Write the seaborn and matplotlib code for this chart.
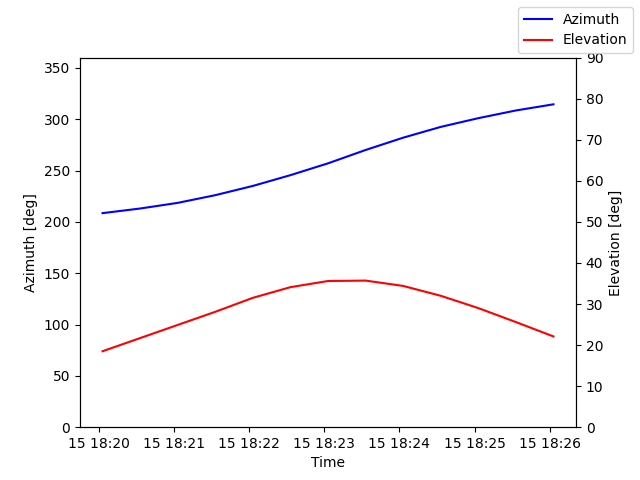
import pandas as pd
import matplotlib
matplotlib.use('Agg')
import matplotlib.pyplot as plt
import seaborn as sns

# pass samples every 30 s
times = pd.date_range('2023-06-15 18:20:03', periods=13, freq='30s')
azimuth = [208.5, 213.0, 218.5, 226.0, 235.0, 245.5, 257.0, 270.0, 282.0, 292.5, 301.0, 308.5, 314.5]
elevation = [18.5, 21.7, 24.9, 28.1, 31.5, 34.1, 35.6, 35.7, 34.4, 32.0, 29.0, 25.6, 22.1]

passDF = pd.DataFrame({'Time': times, 'Azimuth': azimuth, 'Elevation': elevation})

fig, ax = plt.subplots(figsize=(6.4, 4.8), dpi=100)
sns.lineplot(x='Time', y='Azimuth', data=passDF, color='blue', label='Azimuth', legend=False, ax=ax)
ax.set_ylim(0, 360)
ax.set_xlabel('Time')
ax.set_ylabel('Azimuth [deg]')

ax2 = ax.twinx()
sns.lineplot(x='Time', y='Elevation', data=passDF, color='red', label='Elevation', legend=False, ax=ax2)
ax2.set_ylim(0, 90)
ax2.set_ylabel('Elevation [deg]')

fig.legend()
fig.savefig('out.png')
